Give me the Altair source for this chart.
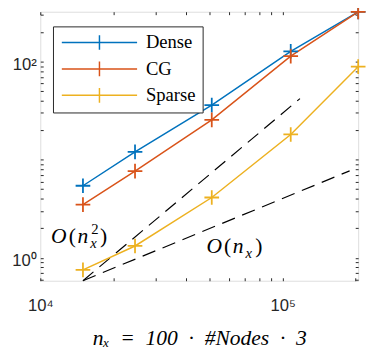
import altair as alt
import pandas as pd

# ---- data ----
nx = [15000, 24600, 51000, 108000, 205000]
dense = [5.43, 12.05, 36.0, 127.6, 322.0]
cg = [3.48, 7.66, 25.5, 113.7, 322.0]
sparse = [0.752, 1.32, 4.12, 18.1, 88.9]
series_names = ["Dense", "CG", "Sparse"]
series_colors = ["#0072BD", "#D95319", "#EDB120"]

quad_x = [15000, 117900]
quad_y = [0.584, 42.0]
lin_x = [15000, 189000]
lin_y = [0.584, 7.7]

x_ticks = [10000, 20000, 30000, 40000, 50000, 60000, 70000, 80000, 90000, 100000, 200000]
y_ticks = [0.6, 0.7, 0.8, 0.9, 1, 2, 3, 4, 5, 6, 7, 8, 9, 10, 20, 30, 40, 50, 60, 70, 80, 90, 100, 200, 300]
x_domain = [10000, 205000]
y_domain = [0.584, 323]

quad_label_pos = (11080, 1.40)
lin_label_pos = (48500, 1.12)

SP = "\u2002"
x_title = f"nₓ{SP}={SP}100{SP}·{SP}#Nodes{SP}·{SP}3"

# ---- tables ----
rows = []
for name, vals in zip(series_names, [dense, cg, sparse]):
    for i, (a, b) in enumerate(zip(nx, vals)):
        rows.append({"series": name, "nx": a, "t": b, "i": i})
df = pd.DataFrame(rows)

ref_rows = []
for name, xs_, ys_ in [("quad", quad_x, quad_y), ("lin", lin_x, lin_y)]:
    for i, (a, b) in enumerate(zip(xs_, ys_)):
        ref_rows.append({"ref": name, "nx": a, "t": b, "i": i})
ref_df = pd.DataFrame(ref_rows)

quad_df = pd.DataFrame([{"nx": quad_label_pos[0], "t": quad_label_pos[1]}])
lin_df = pd.DataFrame([{"nx": lin_label_pos[0], "t": lin_label_pos[1]}])

xs = alt.Scale(type="log", domain=x_domain, nice=False)
ys = alt.Scale(type="log", domain=y_domain, nice=False)
cscale = alt.Scale(domain=series_names, range=series_colors)

AX = "#262626"
PLUS = "M-1,0H1M0,-1V1"
LEG_SYM = "M-5.13,0H5.13M0,-1V1"

x_bottom = alt.Axis(orient="bottom", values=x_ticks,
                    labelExpr="datum.value == 10000 ? '10⁴' : datum.value == 100000 ? '10⁵' : ''",
                    tickSize=3, offset=-3, domain=False, grid=False, tickColor=AX,
                    labelFont="Liberation Sans", labelFontSize=17, labelColor=AX,
                    labelPadding=17, labelOverlap=False, labelFlush=False,
                    title=x_title, titleFont="Liberation Serif",
                    titleFontStyle="italic", titleFontWeight="normal", titleFontSize=22,
                    titleColor="black", titlePadding=15)
y_left = alt.Axis(orient="left", values=y_ticks,
                  labelExpr="datum.value == 1 ? '10⁰' : datum.value == 100 ? '10²' : ''",
                  tickSize=3, offset=-3, domain=False, grid=False, tickColor=AX,
                  labelFont="Liberation Sans", labelFontSize=17, labelColor=AX,
                  labelPadding=4, labelOffset=3, labelOverlap=False, labelFlush=False, title=None)
x_top = alt.Axis(orient="top", values=x_ticks, labels=False, tickSize=3, offset=-3,
                 domain=False, grid=False, tickColor=AX, title=None)
y_right = alt.Axis(orient="right", values=y_ticks, labels=False, tickSize=3, offset=-3,
                   domain=False, grid=False, tickColor=AX, title=None)

legend = alt.Legend(orient="none", legendX=13, legendY=15, title=None,
                    symbolType=LEG_SYM, symbolSize=225, symbolStrokeWidth=1.5,
                    symbolOffset=31, labelOffset=38, labelAlign="left",
                    labelFont="Liberation Serif", labelFontSize=19, labelColor="black",
                    padding=7, rowPadding=6, strokeColor=AX, fillColor="white")

refs = alt.Chart(ref_df).mark_line(color="black", strokeWidth=1.2, strokeDash=[14, 8]).encode(
    x=alt.X("nx:Q", scale=xs, axis=x_top),
    y=alt.Y("t:Q", scale=ys, axis=y_right),
    detail="ref:N",
    order="i:Q",
)

lines = alt.Chart(df).mark_line(strokeWidth=1.5).encode(
    x=alt.X("nx:Q", scale=xs, axis=x_bottom),
    y=alt.Y("t:Q", scale=ys, axis=y_left),
    color=alt.Color("series:N", scale=cscale, legend=legend),
    order="i:Q",
)

points = alt.Chart(df).mark_point(shape=PLUS, size=225, filled=False, strokeWidth=1.8, opacity=1).encode(
    x=alt.X("nx:Q", scale=xs, axis=None),
    y=alt.Y("t:Q", scale=ys, axis=None),
    color=alt.Color("series:N", scale=cscale, legend=None),
)

def txt(data, text, dx, dy, size, style="italic"):
    return alt.Chart(data).mark_text(text=text, align="left", baseline="alphabetic",
                                     font="Liberation Serif", fontStyle=style,
                                     fontSize=size, color="black", dx=dx, dy=dy).encode(
        x=alt.X("nx:Q", scale=xs, axis=None),
        y=alt.Y("t:Q", scale=ys, axis=None),
    )

def big_o(data, sup):
    parts = [
        txt(data, "O", 0, 0, 22),
        txt(data, "(", 18, 0, 22, "normal"),
        txt(data, "n", 27, 0, 22),
        txt(data, "x", 40, 5, 15),
        txt(data, ")", 50, 0, 22, "normal"),
    ]
    if sup:
        parts.append(txt(data, "2", 41, -10, 15, "normal"))
    return parts

ann = big_o(quad_df, True) + big_o(lin_df, False)

chart = alt.layer(refs, lines, points, *ann).properties(
    width=325, height=275,
    autosize=alt.AutoSizeParams(type="none"),
    padding={"left": 33, "top": 0, "right": 8, "bottom": 66},
).configure_view(stroke=AX, strokeWidth=1).configure(background="white")

chart.save("out.html", embed_options={"renderer": "svg", "actions": False})
